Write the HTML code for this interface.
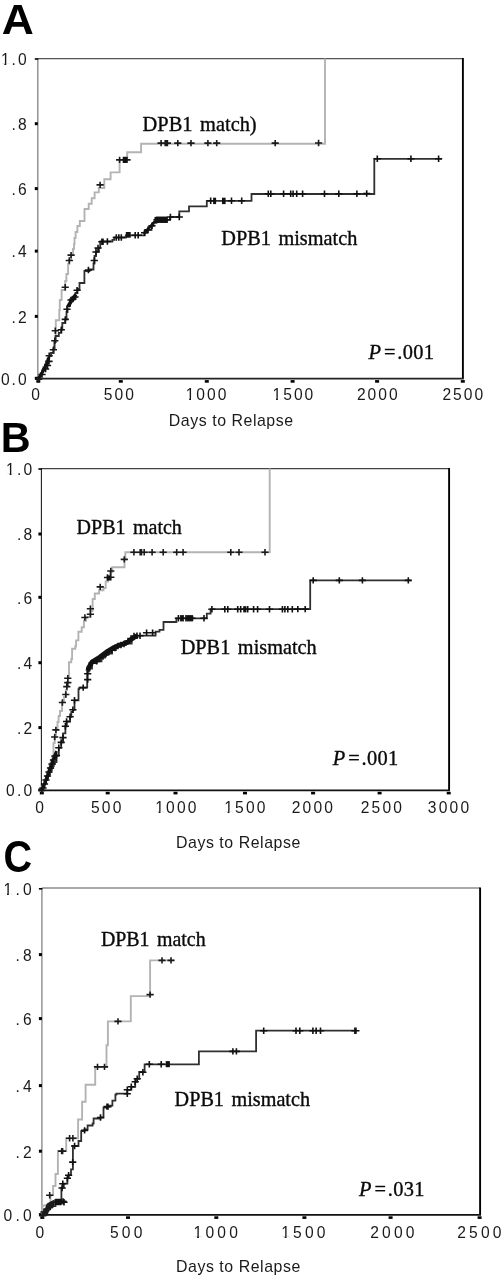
<!DOCTYPE html>
<html><head><meta charset="utf-8"><style>
html,body{margin:0;padding:0;background:#fff;width:504px;height:1280px;overflow:hidden}
svg{display:block;will-change:transform}
.ax{font-family:"Liberation Sans", sans-serif;font-size:15.6px;letter-spacing:1.8px;fill:#1a1a1a}
.big{font-family:"Liberation Sans", sans-serif;font-weight:bold;font-size:44px;fill:#000}
.lab{font-family:"Liberation Serif", serif;font-size:20.4px;word-spacing:2.5px;fill:#0a0a0a;stroke:#0a0a0a;stroke-width:0.35px}
.days{font-family:"Liberation Sans", sans-serif;font-size:15.9px;letter-spacing:0.55px;fill:#1a1a1a}
</style></head><body>
<svg width="504" height="1280" viewBox="0 0 504 1280" shape-rendering="auto">
<line x1="37.8" y1="58.6" x2="462.9" y2="58.6" stroke="#555" stroke-width="1.3"/>
<line x1="37.8" y1="58.6" x2="37.8" y2="378.7" stroke="#8c8c8c" stroke-width="1.4"/>
<line x1="462.9" y1="58.0" x2="462.9" y2="378.7" stroke="#000" stroke-width="1.9"/>
<line x1="37.8" y1="378.7" x2="463.79999999999995" y2="378.7" stroke="#222" stroke-width="1.7"/>
<rect x="34.8" y="58.199999999999996" width="3.5" height="1.6" fill="#000"/>
<rect x="34.8" y="122.2" width="3" height="3" fill="#000"/>
<rect x="34.8" y="187.1" width="3" height="3" fill="#000"/>
<rect x="34.8" y="249.6" width="3" height="3" fill="#000"/>
<rect x="34.8" y="314.9" width="3" height="3" fill="#000"/>
<rect x="34.8" y="376.8" width="3" height="3" fill="#000"/>
<rect x="36.3" y="380.09999999999997" width="4" height="2.6" fill="#000"/>
<rect x="118.8" y="380.09999999999997" width="4" height="2.6" fill="#000"/>
<rect x="204.8" y="380.09999999999997" width="4" height="2.6" fill="#000"/>
<rect x="290.6" y="380.09999999999997" width="4" height="2.6" fill="#000"/>
<rect x="375.1" y="380.09999999999997" width="4" height="2.6" fill="#000"/>
<rect x="460.8" y="380.09999999999997" width="4" height="2.6" fill="#000"/>
<text x="28.6" y="65.1" text-anchor="end" class="ax" style="letter-spacing:2.0px">1.0</text>
<text x="28.6" y="130.0" text-anchor="end" class="ax" style="letter-spacing:2.0px">.8</text>
<text x="28.6" y="194.9" text-anchor="end" class="ax" style="letter-spacing:2.0px">.6</text>
<text x="28.6" y="257.4" text-anchor="end" class="ax" style="letter-spacing:2.0px">.4</text>
<text x="28.6" y="322.7" text-anchor="end" class="ax" style="letter-spacing:2.0px">.2</text>
<text x="28.6" y="384.6" text-anchor="end" class="ax" style="letter-spacing:2.0px">0.0</text>
<text x="36.6" y="399.6" text-anchor="middle" class="ax" style="letter-spacing:2.0px">0</text>
<text x="119.85" y="399.6" text-anchor="middle" class="ax" style="letter-spacing:2.0px">500</text>
<text x="207.0" y="399.6" text-anchor="middle" class="ax" style="letter-spacing:2.0px">1000</text>
<text x="293.9" y="399.6" text-anchor="middle" class="ax" style="letter-spacing:2.0px">1500</text>
<text x="378.3" y="399.6" text-anchor="middle" class="ax" style="letter-spacing:2.0px">2000</text>
<text x="463.8" y="399.6" text-anchor="middle" class="ax" style="letter-spacing:2.0px">2500</text>
<path d="M38,379 H39.38 V376.12 H40.75 V373.25 H42.12 V370.38 H43.5 V367.5 H44.88 V364.62 H46.25 V361.75 H47.62 V358.88 H49.0 V356.0 H51 V353 H53.5 V349 H54.5 V342 H55.8 V331 H55.8 V320.3 H59.3 V310 H59.8 V300 H61.6 V290 H65.2 V281 H66.4 V274 H68.1 V264 H69.3 V260 H71.1 V255 H73 V249 H74 V244 H74.5 V238 H75.6 V232 H77.4 V226 H79.8 V221 H84.5 V209 H88.7 V203.7 H91.7 V198.3 H94.6 V192.4 H98.8 V188 H104.3 V179.3 H110.6 V172.4 H119.6 V159.9 H127.2 V152.2 H141.1 V143.8 H325.0 V58.6" fill="none" stroke="#b3b3b3" stroke-width="1.9"/>
<path d="M38,379 H39.38 V376.12 H40.75 V373.25 H42.12 V370.38 H43.5 V367.5 H44.88 V364.62 H46.25 V361.75 H47.62 V358.88 H49.0 V356.0 H51 V353 H53.5 V349 H54.5 V342 H55.5 V336 H58.8 V332.8 H61.3 V329.5 H62.3 V323 H65.3 V319.4 H66.5 V312 H67.5 V306 H70 V300 H73 V297 H75.5 V293 H77.5 V289 H79.5 V283 H84.4 V271 H89.6 V269.5 H93.5 V263.5 H94.5 V256 H96 V251.6 H98.9 V247.6 H100.2 V241.5 H112.4 V239.9 H114.3 V237.5 H125.8 V235.3 H144.6 V232.7 H147.5 V229.8 H151.5 V225.8 H153.5 V222.8 H156.5 V219.8 H170 V217 H179.3 V211.3 H189 V206.3 H206.8 V200.8 H251.5 V194 H374.3 V158.8 H441.8" fill="none" stroke="#303030" stroke-width="1.8"/>
<path d="M35.0,379.2h7.2M38.6,376.0v6.4M51.699999999999996,330.8h7.2M55.3,327.6v6.4M51.199999999999996,340.8h7.2M54.8,337.6v6.4M49.8,349.7h7.2M53.4,346.5v6.4M45.6,355.7h7.2M49.2,352.5v6.4M61.6,287.3h7.2M65.2,284.1v6.4M65.7,260.5h7.2M69.3,257.3v6.4M67.5,255.1h7.2M71.1,251.9v6.4M96.5,184.9h7.2M100.1,181.70000000000002v6.4M116.0,159.9h7.2M119.6,156.70000000000002v6.4M119.9,159.9h7.2M123.5,156.70000000000002v6.4M121.60000000000001,159.9h7.2M125.2,156.70000000000002v6.4M123.4,159.9h7.2M127,156.70000000000002v6.4M157.5,143.1h7.2M161.1,139.9v6.4M161.6,143.1h7.2M165.2,139.9v6.4M162.8,143.1h7.2M166.4,139.9v6.4M163.8,143.1h7.2M167.4,139.9v6.4M174.20000000000002,143.1h7.2M177.8,139.9v6.4M187.4,143.1h7.2M191,139.9v6.4M204.3,143.1h7.2M207.9,139.9v6.4M213.1,143.1h7.2M216.7,139.9v6.4M271.59999999999997,143.1h7.2M275.2,139.9v6.4M315.0,143.0h7.2M318.6,139.8v6.4" fill="none" stroke="#1a1a1a" stroke-width="1.6"/>
<path d="M38.4,374.5h7.2M42,371.3v6.4M42.0,369h7.2M45.6,365.8v6.4M43.9,365.5h7.2M47.5,362.3v6.4M45.4,361.4h7.2M49,358.2v6.4M57.699999999999996,329.8h7.2M61.3,326.6v6.4M61.699999999999996,319.4h7.2M65.3,316.2v6.4M63.4,309.3h7.2M67,306.1v6.4M67.4,300h7.2M71,296.8v6.4M69.4,299h7.2M73,295.8v6.4M71.4,297h7.2M75,293.8v6.4M73.5,290.2h7.2M77.1,287.0v6.4M84.80000000000001,270h7.2M88.4,266.8v6.4M90.7,260.5h7.2M94.3,257.3v6.4M92.4,252h7.2M96,248.8v6.4M94.4,248h7.2M98,244.8v6.4M98.30000000000001,241.7h7.2M101.9,238.5v6.4M99.4,241.7h7.2M103,238.5v6.4M103.80000000000001,241.5h7.2M107.4,238.3v6.4M112.7,237.5h7.2M116.3,234.3v6.4M115.2,237.5h7.2M118.8,234.3v6.4M117.7,237.5h7.2M121.3,234.3v6.4M131.6,235.3h7.2M135.2,232.10000000000002v6.4M134.6,235.3h7.2M138.2,232.10000000000002v6.4M141.0,232.7h7.2M144.6,229.5v6.4M144.4,229.8h7.2M148,226.60000000000002v6.4M148.4,225.8h7.2M152,222.60000000000002v6.4M153.4,219.8h7.2M157,216.60000000000002v6.4M155.4,219.8h7.2M159,216.60000000000002v6.4M157.4,219.8h7.2M161,216.60000000000002v6.4M159.4,219.8h7.2M163,216.60000000000002v6.4M161.4,219.8h7.2M165,216.60000000000002v6.4M163.4,219.8h7.2M167,216.60000000000002v6.4M166.8,217h7.2M170.4,213.8v6.4M175.70000000000002,217h7.2M179.3,213.8v6.4M207.1,200.8h7.2M210.7,197.60000000000002v6.4M227.9,200.8h7.2M231.5,197.60000000000002v6.4M238.1,200.8h7.2M241.7,197.60000000000002v6.4M264.7,193.7h7.2M268.3,190.5v6.4M267.2,193.7h7.2M270.8,190.5v6.4M280.0,193.7h7.2M283.6,190.5v6.4M287.09999999999997,193.7h7.2M290.7,190.5v6.4M289.5,193.7h7.2M293.1,190.5v6.4M293.09999999999997,193.7h7.2M296.7,190.5v6.4M299.0,193.7h7.2M302.6,190.5v6.4M320.9,193.7h7.2M324.5,190.5v6.4M335.2,193.7h7.2M338.8,190.5v6.4M353.29999999999995,193.7h7.2M356.9,190.5v6.4M363.09999999999997,193.5h7.2M366.7,190.3v6.4M373.7,158.8h7.2M377.3,155.60000000000002v6.4M407.29999999999995,158.8h7.2M410.9,155.60000000000002v6.4M435.0,158.8h7.2M438.6,155.60000000000002v6.4" fill="none" stroke="#111" stroke-width="1.6"/>
<text transform="translate(1.8,33.7) scale(1.01,0.985)" x="0" y="0" class="big">A</text>
<rect x="213.1" y="197.7" width="3.0" height="6.4" fill="#111"/>
<rect x="222" y="197.7" width="3.6" height="6.4" fill="#111"/>
<rect x="123.1" y="157.1" width="3.9" height="5.7" fill="#111"/>
<rect x="125.8" y="232" width="4.9" height="5.7" fill="#111"/>
<rect x="154.5" y="216.9" width="12.9" height="5.8" fill="#111"/>
<polyline points="38.8,378.3 42,373 45,367.5 47.5,362 49,357" fill="none" stroke="#111" stroke-width="3.0" stroke-linejoin="round"/>
<polyline points="68,306.5 71,301.5 73.5,298 75.8,294.5" fill="none" stroke="#111" stroke-width="3.6" stroke-linejoin="round"/>
<polyline points="143.5,233.5 148,229 152,224.5 155,221" fill="none" stroke="#111" stroke-width="2.6" stroke-linejoin="round"/>
<text x="142.6" y="130.7" class="lab" style="font-size:20.4px">DPB1 match)</text>
<text x="221.3" y="244.6" class="lab" style="font-size:20.3px">DPB1 mismatch</text>
<text x="368.6" y="358.6" class="lab"><tspan font-style="italic">P</tspan><tspan dx="3.0">=</tspan><tspan dx="1.8" style="letter-spacing:0.3px">.001</tspan></text>
<text x="168.8" y="426.1" class="days">Days to Relapse</text>
<line x1="41.4" y1="468.6" x2="449.1" y2="468.6" stroke="#444" stroke-width="1.3"/>
<line x1="41.4" y1="468.6" x2="41.4" y2="790.4" stroke="#222" stroke-width="1.1"/>
<line x1="449.1" y1="468.0" x2="449.1" y2="790.4" stroke="#000" stroke-width="1.9"/>
<line x1="41.4" y1="790.4" x2="450.0" y2="790.4" stroke="#111" stroke-width="1.7"/>
<rect x="38.4" y="468.2" width="3.5" height="1.6" fill="#000"/>
<rect x="38.4" y="532.5" width="3" height="3" fill="#000"/>
<rect x="38.4" y="595.8" width="3" height="3" fill="#000"/>
<rect x="38.4" y="661.2" width="3" height="3" fill="#000"/>
<rect x="38.4" y="726.1" width="3" height="3" fill="#000"/>
<rect x="38.4" y="788.4" width="3" height="3" fill="#000"/>
<rect x="39.8" y="791.8" width="4" height="2.6" fill="#000"/>
<rect x="105.7" y="791.8" width="4" height="2.6" fill="#000"/>
<rect x="173.5" y="791.8" width="4" height="2.6" fill="#000"/>
<rect x="243.0" y="791.8" width="4" height="2.6" fill="#000"/>
<rect x="311.1" y="791.8" width="4" height="2.6" fill="#000"/>
<rect x="377.6" y="791.8" width="4" height="2.6" fill="#000"/>
<rect x="446.7" y="791.8" width="4" height="2.6" fill="#000"/>
<text x="34.400000000000006" y="475.1" text-anchor="end" class="ax" style="letter-spacing:2.2px">1.0</text>
<text x="34.400000000000006" y="540.3" text-anchor="end" class="ax" style="letter-spacing:2.2px">.8</text>
<text x="34.400000000000006" y="603.5999999999999" text-anchor="end" class="ax" style="letter-spacing:2.2px">.6</text>
<text x="34.400000000000006" y="669.0" text-anchor="end" class="ax" style="letter-spacing:2.2px">.4</text>
<text x="34.400000000000006" y="733.9" text-anchor="end" class="ax" style="letter-spacing:2.2px">.2</text>
<text x="34.400000000000006" y="796.1999999999999" text-anchor="end" class="ax" style="letter-spacing:2.2px">0.0</text>
<text x="40.800000000000004" y="813.0" text-anchor="middle" class="ax" style="letter-spacing:2.2px">0</text>
<text x="107.3" y="813.0" text-anchor="middle" class="ax" style="letter-spacing:2.2px">500</text>
<text x="176.9" y="813.0" text-anchor="middle" class="ax" style="letter-spacing:2.2px">1000</text>
<text x="245.9" y="813.0" text-anchor="middle" class="ax" style="letter-spacing:2.2px">1500</text>
<text x="313.40000000000003" y="813.0" text-anchor="middle" class="ax" style="letter-spacing:2.2px">2000</text>
<text x="382.5" y="813.0" text-anchor="middle" class="ax" style="letter-spacing:2.2px">2500</text>
<text x="449.6" y="813.0" text-anchor="middle" class="ax" style="letter-spacing:2.2px">3000</text>
<path d="M41.5,790 H42.4 V787.25 H43.3 V784.5 H44.2 V781.75 H45.1 V779.0 H46.0 V776.25 H46.9 V773.5 H47.8 V770.75 H48.7 V768.0 H49.6 V765.25 H50.5 V762.5 H51.4 V759.75 H52.3 V757.0 H53.5 V743 H54.7 V737 H56 V730 H57.5 V722 H58.6 V716 H60 V711 H62 V702 H64 V697 H65.8 V690 H67 V682 H68.2 V676.5 H69 V662.2 H71.3 V659 H72.1 V648.7 H75.3 V646.3 H76.1 V640.4 H78.4 V631.7 H81.7 V627.3 H83.9 V620.8 H86 V617 H90.4 V611 H92.6 V599 H94.8 V593.5 H99.1 V590.2 H103.5 V588 H105.7 V581.5 H108 V576 H110 V572 H112.2 V567.3 H124.5 V559.5 H125.3 V552.2 H269.7 V468.6" fill="none" stroke="#b3b3b3" stroke-width="1.9"/>
<path d="M41.5,790 H42.44 V788.0 H43.39 V786.0 H44.33 V784.0 H45.27 V782.0 H46.21 V780.0 H47.16 V778.0 H48.1 V776.0 H49.04 V774.0 H49.99 V772.0 H50.93 V770.0 H51.87 V768.0 H52.81 V766.0 H53.76 V764.0 H54.7 V762.0 H56.5 V755.5 H58.8 V747.7 H61.2 V742.4 H63 V737.6 H63 V733.4 H65.4 V726.3 H66.6 V721.5 H70.1 V716.8 H71.3 V712 H72.9 V709.8 H74.5 V700.3 H78.5 V689.2 H79.3 V687.6 H87.2 V679.7 H87.2 V671.7 H88.8 V668.6 H92 V663 H96.7 V661.4 H101.5 V657.5 H105 V655 H107.8 V653.5 H112 V650 H115.9 V646.6 H120 V645 H125.8 V643.7 H131.7 V637.7 H135.7 V635.7 H155.6 V631.7 H159.5 V629.8 H163.5 V622 H176.4 V618.3 H206.8 V613.7 H210.6 V609.1 H310.2 V580.4 H410.7" fill="none" stroke="#303030" stroke-width="1.8"/>
<path d="M38.199999999999996,790.4h7.2M41.8,787.1999999999999v6.4M52.3,729.9h7.2M55.9,726.6999999999999v6.4M51.1,737h7.2M54.7,733.8v6.4M58.8,702.5h7.2M62.4,699.3v6.4M62.199999999999996,694.5h7.2M65.8,691.3v6.4M63.199999999999996,686.6h7.2M66.8,683.4v6.4M64.2,682.6h7.2M67.8,679.4v6.4M64.2,678.2h7.2M67.8,675.0v6.4M81.30000000000001,617.5h7.2M84.9,614.3v6.4M86.80000000000001,614.2h7.2M90.4,611.0v6.4M86.80000000000001,608.8h7.2M90.4,605.5999999999999v6.4M96.60000000000001,586.9h7.2M100.2,583.6999999999999v6.4M107.2,571h7.2M110.8,567.8v6.4M107.2,577.3h7.2M110.8,574.0999999999999v6.4M103.9,577.5h7.2M107.5,574.3v6.4M120.7,559.4h7.2M124.3,556.1999999999999v6.4M130.3,552.2h7.2M133.9,549.0v6.4M136.6,552.2h7.2M140.2,549.0v6.4M137.9,552.2h7.2M141.5,549.0v6.4M140.6,552.2h7.2M144.2,549.0v6.4M148.5,552.2h7.2M152.1,549.0v6.4M159.6,552.2h7.2M163.2,549.0v6.4M173.1,552.2h7.2M176.7,549.0v6.4M179.5,552.2h7.2M183.1,549.0v6.4M227.20000000000002,552.2h7.2M230.8,549.0v6.4M235.4,552.2h7.2M239,549.0v6.4M261.4,552.2h7.2M265,549.0v6.4" fill="none" stroke="#1a1a1a" stroke-width="1.6"/>
<path d="M39.4,788h7.2M43,784.8v6.4M40.9,784h7.2M44.5,780.8v6.4M42.4,780h7.2M46,776.8v6.4M43.9,776h7.2M47.5,772.8v6.4M45.4,772h7.2M49,768.8v6.4M46.9,768h7.2M50.5,764.8v6.4M48.4,764h7.2M52,760.8v6.4M49.9,760h7.2M53.5,756.8v6.4M51.4,756h7.2M55,752.8v6.4M52.9,755.5h7.2M56.5,752.3v6.4M55.199999999999996,747.7h7.2M58.8,744.5v6.4M57.6,742.4h7.2M61.2,739.1999999999999v6.4M59.4,737.6h7.2M63,734.4v6.4M61.800000000000004,726.3h7.2M65.4,723.0999999999999v6.4M62.99999999999999,721.5h7.2M66.6,718.3v6.4M66.5,716.8h7.2M70.1,713.5999999999999v6.4M69.30000000000001,709.8h7.2M72.9,706.5999999999999v6.4M70.9,700.3h7.2M74.5,697.0999999999999v6.4M79.60000000000001,687.6h7.2M83.2,684.4v6.4M84.10000000000001,679.6h7.2M87.7,676.4v6.4M84.10000000000001,673.7h7.2M87.7,670.5v6.4M88.4,663h7.2M92,659.8v6.4M93.10000000000001,661.4h7.2M96.7,658.1999999999999v6.4M96.4,658h7.2M100,654.8v6.4M99.4,656.5h7.2M103,653.3v6.4M102.4,654h7.2M106,650.8v6.4M105.4,652h7.2M109,648.8v6.4M108.4,650h7.2M112,646.8v6.4M111.4,648h7.2M115,644.8v6.4M114.4,646h7.2M118,642.8v6.4M117.4,645h7.2M121,641.8v6.4M120.4,644h7.2M124,640.8v6.4M124.4,641h7.2M128,637.8v6.4M127.4,638.5h7.2M131,635.3v6.4M130.4,636h7.2M134,632.8v6.4M133.4,635.7h7.2M137,632.5v6.4M136.4,635.7h7.2M140,632.5v6.4M143.0,632.7h7.2M146.6,629.5v6.4M149.0,632.7h7.2M152.6,629.5v6.4M174.8,618.3h7.2M178.4,615.0999999999999v6.4M177.4,618.3h7.2M181,615.0999999999999v6.4M179.4,618.3h7.2M183,615.0999999999999v6.4M182.4,618.3h7.2M186,615.0999999999999v6.4M184.4,618.3h7.2M188,615.0999999999999v6.4M186.4,618.3h7.2M190,615.0999999999999v6.4M188.4,618.3h7.2M192,615.0999999999999v6.4M200.4,618.3h7.2M204,615.0999999999999v6.4M208.3,609.3h7.2M211.9,606.0999999999999v6.4M221.20000000000002,609.3h7.2M224.8,606.0999999999999v6.4M224.20000000000002,609.3h7.2M227.8,606.0999999999999v6.4M234.1,609.3h7.2M237.7,606.0999999999999v6.4M237.1,609.3h7.2M240.7,606.0999999999999v6.4M244.1,609.3h7.2M247.7,606.0999999999999v6.4M250.0,609.3h7.2M253.6,606.0999999999999v6.4M254.00000000000003,609.3h7.2M257.6,606.0999999999999v6.4M265.9,609.3h7.2M269.5,606.0999999999999v6.4M278.79999999999995,609.3h7.2M282.4,606.0999999999999v6.4M281.29999999999995,609.3h7.2M284.9,606.0999999999999v6.4M284.2,609.3h7.2M287.8,606.0999999999999v6.4M288.7,609.3h7.2M292.3,606.0999999999999v6.4M294.2,609.1h7.2M297.8,605.9v6.4M301.59999999999997,609.1h7.2M305.2,605.9v6.4M309.59999999999997,580.4h7.2M313.2,577.1999999999999v6.4M335.7,580.4h7.2M339.3,577.1999999999999v6.4M358.79999999999995,580.4h7.2M362.4,577.1999999999999v6.4M404.7,580.4h7.2M408.3,577.1999999999999v6.4" fill="none" stroke="#111" stroke-width="1.6"/>
<text transform="translate(0.8,452.1) scale(0.94,0.96)" x="0" y="0" class="big">B</text>
<rect x="243.2" y="606.2" width="3.2" height="6.2" fill="#111"/>
<rect x="106.8" y="575.5" width="3.5" height="5.0" fill="#111"/>
<rect x="180.4" y="615.6" width="3.0" height="5.2" fill="#111"/>
<rect x="186.4" y="615.6" width="6.9" height="5.2" fill="#111"/>
<polyline points="42.5,789 46,780 50,768 53,760 56.5,751" fill="none" stroke="#111" stroke-width="2.8" stroke-linejoin="round"/>
<polyline points="88,671 88.5,668 92,662 96,659.5 100,657 104,654 108,651 113,648 118,645.6 123,644 128,642 131,639.5 134,637.5 137.5,635.5" fill="none" stroke="#111" stroke-width="4.8" stroke-linejoin="round"/>
<text x="76.6" y="534.4" class="lab" style="font-size:20.0px">DPB1 match</text>
<text x="180.7" y="654.4" class="lab" style="font-size:20.3px">DPB1 mismatch</text>
<text x="332.8" y="764.7" class="lab"><tspan font-style="italic">P</tspan><tspan dx="3.0">=</tspan><tspan dx="1.8" style="letter-spacing:0.3px">.001</tspan></text>
<text x="176.0" y="847.9" class="days">Days to Relapse</text>
<line x1="41.9" y1="888.0" x2="480.1" y2="888.0" stroke="#8c8c8c" stroke-width="1.3"/>
<line x1="41.9" y1="888.0" x2="41.9" y2="1214.9" stroke="#8c8c8c" stroke-width="1.4"/>
<line x1="480.1" y1="887.4" x2="480.1" y2="1214.9" stroke="#000" stroke-width="1.9"/>
<line x1="41.9" y1="1214.9" x2="481.0" y2="1214.9" stroke="#111" stroke-width="1.7"/>
<rect x="38.9" y="888.0" width="3.5" height="1.6" fill="#000"/>
<rect x="38.9" y="953.1" width="3" height="3" fill="#000"/>
<rect x="38.9" y="1017.1" width="3" height="3" fill="#000"/>
<rect x="38.9" y="1084.1" width="3" height="3" fill="#000"/>
<rect x="38.9" y="1149.7" width="3" height="3" fill="#000"/>
<rect x="38.9" y="1213.1" width="3" height="3" fill="#000"/>
<rect x="40.3" y="1216.3000000000002" width="4" height="2.6" fill="#000"/>
<rect x="126.0" y="1216.3000000000002" width="4" height="2.6" fill="#000"/>
<rect x="214.3" y="1216.3000000000002" width="4" height="2.6" fill="#000"/>
<rect x="302.4" y="1216.3000000000002" width="4" height="2.6" fill="#000"/>
<rect x="388.6" y="1216.3000000000002" width="4" height="2.6" fill="#000"/>
<rect x="477.6" y="1216.3000000000002" width="4" height="2.6" fill="#000"/>
<text x="34.800000000000004" y="894.9" text-anchor="end" class="ax" style="letter-spacing:3.2px">1.0</text>
<text x="34.800000000000004" y="960.9" text-anchor="end" class="ax" style="letter-spacing:3.2px">.8</text>
<text x="34.800000000000004" y="1024.9" text-anchor="end" class="ax" style="letter-spacing:3.2px">.6</text>
<text x="34.800000000000004" y="1091.8999999999999" text-anchor="end" class="ax" style="letter-spacing:3.2px">.4</text>
<text x="34.800000000000004" y="1157.5" text-anchor="end" class="ax" style="letter-spacing:3.2px">.2</text>
<text x="34.800000000000004" y="1220.8999999999999" text-anchor="end" class="ax" style="letter-spacing:3.2px">0.0</text>
<text x="41.4" y="1238.3" text-anchor="middle" class="ax" style="letter-spacing:3.2px">0</text>
<text x="127.8" y="1238.3" text-anchor="middle" class="ax" style="letter-spacing:3.2px">500</text>
<text x="217.29999999999998" y="1238.3" text-anchor="middle" class="ax" style="letter-spacing:3.2px">1000</text>
<text x="304.90000000000003" y="1238.3" text-anchor="middle" class="ax" style="letter-spacing:3.2px">1500</text>
<text x="393.90000000000003" y="1238.3" text-anchor="middle" class="ax" style="letter-spacing:3.2px">2000</text>
<text x="480.90000000000003" y="1238.3" text-anchor="middle" class="ax" style="letter-spacing:3.2px">2500</text>
<path d="M42,1215 H42.4 V1205.5 H48.3 V1203.8 H50.5 V1195 H53.1 V1186 H55.5 V1174 H57.9 V1162 H57.9 V1151 H66.2 V1138.3 H78.1 V1119.5 H82.1 V1101.7 H85.6 V1084.8 H95.2 V1066.9 H106.5 V1045.2 H107.9 V1021.4 H130.8 V996.1 H150.1 V960.4 H173.9" fill="none" stroke="#b3b3b3" stroke-width="1.9"/>
<path d="M42,1215 H43.65 V1213.53 H45.3 V1212.07 H46.95 V1210.6 H48.6 V1209.13 H50.25 V1207.67 H51.9 V1206.2 H55.5 V1203 H61.4 V1201.4 H61.4 V1187.7 H63.8 V1183.6 H67.4 V1178.2 H68.6 V1175.2 H71 V1169.3 H72.9 V1146 H78.5 V1141 H81.2 V1131.2 H84.5 V1129.4 H87.6 V1125.5 H92.6 V1123.5 H93.6 V1118.5 H100.5 V1117.5 H103.5 V1107.6 H107.5 V1106.6 H109.4 V1105.6 H112.4 V1100.7 H115.4 V1094.7 H116.4 V1093.7 H127.3 V1089.8 H131.3 V1086.8 H135.2 V1081.8 H137.2 V1078.8 H139.2 V1072 H144.6 V1064.3 H198.9 V1051.4 H256.1 V1030.7 H357.1" fill="none" stroke="#303030" stroke-width="1.8"/>
<path d="M39.199999999999996,1215.6h7.2M42.8,1212.3999999999999v6.4M46.1,1195.2h7.2M49.7,1192.0v6.4M58.1,1151.1h7.2M61.7,1147.8999999999999v6.4M59.0,1151.1h7.2M62.6,1147.8999999999999v6.4M66.0,1138.3h7.2M69.6,1135.1v6.4M69.30000000000001,1138.3h7.2M72.9,1135.1v6.4M93.9,1066.9h7.2M97.5,1063.7v6.4M100.9,1066.9h7.2M104.5,1063.7v6.4M114.4,1021.4h7.2M118,1018.1999999999999v6.4M146.5,994.6h7.2M150.1,991.4v6.4M158.4,960.4h7.2M162,957.1999999999999v6.4M167.4,960.4h7.2M171,957.1999999999999v6.4" fill="none" stroke="#1a1a1a" stroke-width="1.6"/>
<path d="M40.4,1212h7.2M44,1208.8v6.4M43.4,1209h7.2M47,1205.8v6.4M46.4,1207h7.2M50,1203.8v6.4M52.4,1202h7.2M56,1198.8v6.4M53.9,1202h7.2M57.5,1198.8v6.4M55.4,1202h7.2M59,1198.8v6.4M56.9,1202h7.2M60.5,1198.8v6.4M59.4,1201.4h7.2M63,1198.2v6.4M60.4,1202.2h7.2M64,1199.0v6.4M58.5,1188h7.2M62.1,1184.8v6.4M59.199999999999996,1183.8h7.2M62.8,1180.6v6.4M63.800000000000004,1178.2h7.2M67.4,1175.0v6.4M65.0,1175.2h7.2M68.6,1172.0v6.4M69.10000000000001,1162.1h7.2M72.7,1158.8999999999999v6.4M71.0,1146h7.2M74.6,1142.8v6.4M81.0,1130.4h7.2M84.6,1127.2v6.4M96.9,1117.5h7.2M100.5,1114.3v6.4M103.4,1106.6h7.2M107,1103.3999999999999v6.4M104.4,1106.6h7.2M108,1103.3999999999999v6.4M123.7,1093.7h7.2M127.3,1090.5v6.4M123.7,1089.8h7.2M127.3,1086.6v6.4M127.70000000000002,1086.8h7.2M131.3,1083.6v6.4M131.6,1081.8h7.2M135.2,1078.6v6.4M133.6,1078.8h7.2M137.2,1075.6v6.4M139.3,1072.2h7.2M142.9,1069.0v6.4M145.70000000000002,1064.3h7.2M149.3,1061.1v6.4M157.6,1064.3h7.2M161.2,1061.1v6.4M229.3,1051.4h7.2M232.9,1048.2v6.4M232.8,1051.4h7.2M236.4,1048.2v6.4M260.09999999999997,1030.7h7.2M263.7,1027.5v6.4M292.4,1030.7h7.2M296,1027.5v6.4M296.2,1030.7h7.2M299.8,1027.5v6.4M309.29999999999995,1030.7h7.2M312.9,1027.5v6.4M312.5,1030.7h7.2M316.1,1027.5v6.4M316.9,1030.7h7.2M320.5,1027.5v6.4M351.29999999999995,1030.7h7.2M354.9,1027.5v6.4M352.29999999999995,1030.7h7.2M355.9,1027.5v6.4" fill="none" stroke="#111" stroke-width="1.6"/>
<text transform="translate(3.6,871.5) scale(0.9,1.0)" x="0" y="0" class="big">C</text>
<rect x="54.4" y="1199.3" width="7.4" height="5.4" fill="#111"/>
<rect x="165.7" y="1061.1" width="4.2" height="6.1" fill="#111"/>
<polygon points="40.8,1216 42.3,1212 45,1208.5 46.5,1204 49.5,1202 54.5,1199.5 54.5,1205.4 51.5,1207.5 49,1211 47.5,1215.8" fill="#1c1c1c"/>
<text x="100.9" y="946.2" class="lab" style="font-size:19.9px">DPB1 match</text>
<text x="174.6" y="1105.6" class="lab" style="font-size:20.2px">DPB1 mismatch</text>
<text x="359.0" y="1195.8" class="lab"><tspan font-style="italic">P</tspan><tspan dx="3.0">=</tspan><tspan dx="1.8" style="letter-spacing:0.3px">.031</tspan></text>
<text x="176.0" y="1272.0" class="days">Days to Relapse</text>
<rect x="1.38" y="63.35" width="2.97" height="2.5" fill="#fff"/>
<rect x="6.27" y="63.35" width="2.91" height="2.5" fill="#fff"/>
<rect x="186.12" y="397.85" width="2.97" height="2.5" fill="#fff"/>
<rect x="191.01" y="397.85" width="2.91" height="2.5" fill="#fff"/>
<rect x="273.02" y="397.85" width="2.97" height="2.5" fill="#fff"/>
<rect x="277.91" y="397.85" width="2.91" height="2.5" fill="#fff"/>
<rect x="6.59" y="473.35" width="2.97" height="2.5" fill="#fff"/>
<rect x="11.48" y="473.35" width="2.91" height="2.5" fill="#fff"/>
<rect x="155.62" y="811.25" width="2.97" height="2.5" fill="#fff"/>
<rect x="160.51" y="811.25" width="2.91" height="2.5" fill="#fff"/>
<rect x="224.62" y="811.25" width="2.97" height="2.5" fill="#fff"/>
<rect x="229.51" y="811.25" width="2.91" height="2.5" fill="#fff"/>
<rect x="3.99" y="893.15" width="2.97" height="2.5" fill="#fff"/>
<rect x="8.88" y="893.15" width="2.91" height="2.5" fill="#fff"/>
<rect x="194.02" y="1236.55" width="2.97" height="2.5" fill="#fff"/>
<rect x="198.91" y="1236.55" width="2.91" height="2.5" fill="#fff"/>
<rect x="281.62" y="1236.55" width="2.97" height="2.5" fill="#fff"/>
<rect x="286.51" y="1236.55" width="2.91" height="2.5" fill="#fff"/>
</svg>
</body></html>
